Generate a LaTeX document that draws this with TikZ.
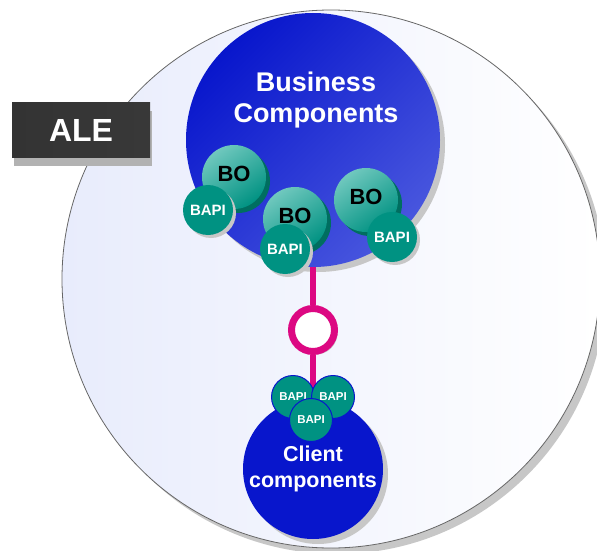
\documentclass[tikz,border=0pt]{standalone}
\usepackage{fontspec}
\setmainfont{Liberation Sans}
\usetikzlibrary{shadows}

\definecolor{bizblue}{RGB}{8,22,204}
\definecolor{bizlight}{RGB}{72,86,222}
\definecolor{boteal}{RGB}{0,146,130}
\definecolor{bolight}{RGB}{112,200,190}
\definecolor{bodark}{RGB}{0,110,96}
\definecolor{linkpink}{RGB}{220,8,130}
\definecolor{domainbg}{RGB}{232,236,252}

\tikzset{
  greyshadow/.style={drop shadow={shadow xshift=#1, shadow yshift=-#1, fill=black!22, opacity=1}},
  bo/.style={circle, inner sep=0pt, minimum size=64pt, top color=bolight, bottom color=boteal, shading angle=35,
    drop shadow={shadow xshift=4pt, shadow yshift=-4pt, fill=bodark, opacity=1}, text depth=6pt,
    font=\fontsize{22}{24}\selectfont\bfseries},
  bapi/.style={circle, inner sep=0pt, minimum size=50pt, fill=boteal, greyshadow=3pt, text=white,
    font=\fontsize{15}{17}\selectfont\bfseries},
  smallbapi/.style={circle, inner sep=0pt, minimum size=43pt, fill=boteal, draw=bizblue, line width=1pt, text=white,
    font=\fontsize{11.5}{13}\selectfont\bfseries},
  link/.style={draw=linkpink, line width=6pt},
}

\begin{document}
\begin{tikzpicture}[x=1pt, y=-1pt]
        \useasboundingbox (0,0) rectangle (597,551);
        % ALE domain
        \node[circle, inner sep=0pt, minimum size=538pt, draw=black!60, line width=0.8pt, left color=domainbg, right color=white, greyshadow=6pt] (domain) at (331,279) {};
        \node[circle, inner sep=0pt, minimum size=254pt, top color=bizblue, bottom color=bizlight, shading angle=45, greyshadow=5pt] (biz) at (313,140) {};
        \node[text=white, align=center, font=\fontsize{27}{31}\selectfont\bfseries] (biztitle) at (316,100) {Business\\Components};
        % interface
        \node[circle, inner sep=0pt, minimum size=43pt, draw=linkpink, line width=7pt, fill=white, greyshadow=3pt] (ring) at (313,330) {};
        \coordinate (clientc) at (313,469);
        \draw[link] (biz) -- (ring);
        \draw[link] (ring) -- (clientc);
        \node[circle, inner sep=0pt, minimum size=140pt, fill=bizblue, greyshadow=5pt, text=white, align=center, font=\fontsize{21.5}{26}\selectfont\bfseries] (client) at (clientc) {Client\\components};
        \node[smallbapi] (cbapi1) at (293,397) {BAPI};
        \node[smallbapi] (cbapi2) at (333,397) {BAPI};
        \node[smallbapi] (cbapi3) at (311,420) {BAPI};
        % business objects
        \node[bo] (bo1) at (234,177) {BO};
        \node[bapi] (bapi1) at (208,210) {BAPI};
        \node[bo] (bo2) at (295,219) {BO};
        \node[bapi] (bapi2) at (285,249) {BAPI};
        \node[bo] (bo3) at (366,200) {BO};
        \node[bapi] (bapi3) at (392,237) {BAPI};
        % label
        \node[rectangle, minimum width=138pt, minimum height=55pt, left color=black!80, middle color=black!55, right color=black!78,
          drop shadow={shadow xshift=2pt, shadow yshift=-8pt, fill=black!30, opacity=1}, text=white,
          font=\fontsize{32}{36}\selectfont\bfseries] (ale) at (81,130) {ALE};
\end{tikzpicture}
\end{document}
